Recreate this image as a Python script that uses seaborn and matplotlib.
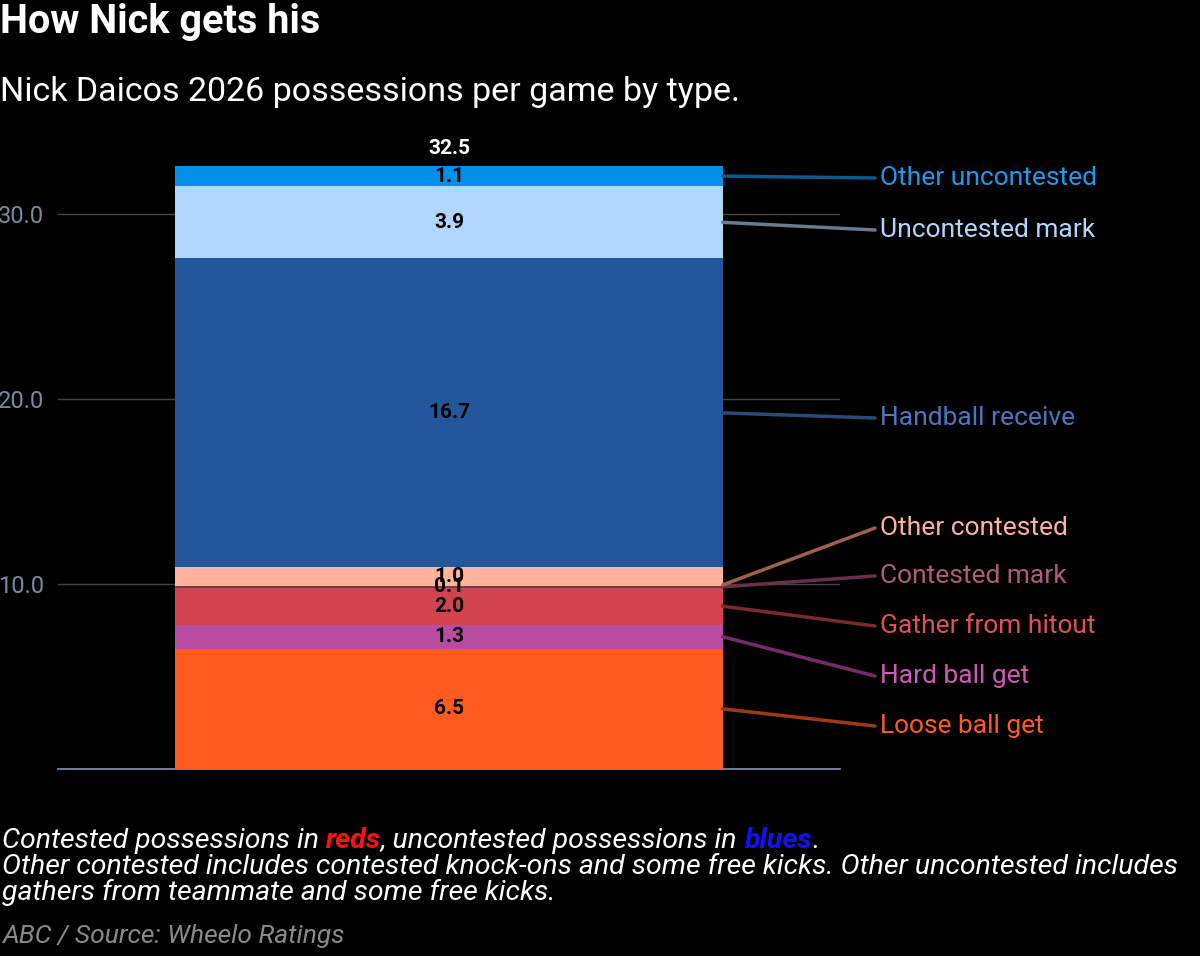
import matplotlib
matplotlib.use("Agg")
import matplotlib.pyplot as plt
import seaborn as sns
import numpy as np
import pandas as pd

categories = ["Loose ball get", "Hard ball get", "Gather from hitout", "Contested mark",
              "Other contested", "Handball receive", "Uncontested mark", "Other uncontested"]
values = [6.5, 1.3, 2.0, 0.1, 1.0, 16.7, 3.9, 1.1]
total_label = "32.5"
colors = ["#ff5a1f", "#b84ca0", "#d0434f", "#7a3a55", "#ffb49a", "#23579c", "#b0d6fc", "#0090e8"]
text_colors = ["#ff5a1f", "#d058b8", "#e0505a", "#b05a80", "#ffb49a", "#4a78c0", "#b0d6fc", "#1a9af0"]
line_colors = ["#a03a14", "#7a2a68", "#7a2a30", "#6a3048", "#a06050", "#2a4a78", "#6a7a90", "#0a5a90"]
label_y_px = [726, 676, 626, 576, 528, 418, 230, 178]
yticks = [10, 20, 30]

sns.set_theme(style="dark")
plt.rcParams["font.family"] = ["Roboto", "DejaVu Sans"]
fig = plt.figure(figsize=(12, 9.56), dpi=100, facecolor="black")
ax = fig.add_axes([58/1200, 1-769/956, 782/1200, (769-140)/956])
ax.set_facecolor("black")

cum = np.cumsum(values)
bottoms = cum - np.array(values)
for i in reversed(range(len(values))):
    df = pd.DataFrame({"x": ["a"], "y": [cum[i]]})
    sns.barplot(data=df, x="x", y="y", color=colors[i], width=0.7, ax=ax,
                saturation=1, zorder=3, linewidth=0)
ax.set_xlim(-0.5, 0.5)
ax.set_ylim(0, 34)
ax.set_yticks(yticks)
ax.set_yticklabels([f"{t:.1f}" for t in yticks], color="#7a8aa0", fontsize=17)
ax.set_xticks([])
ax.set_xlabel(""); ax.set_ylabel("")
ax.yaxis.grid(True, color="#444444", linewidth=1)
ax.xaxis.grid(False)
for s in ["top", "right", "left"]:
    ax.spines[s].set_visible(False)
ax.spines["bottom"].set_color("#8090b0")
ax.tick_params(axis="y", length=0, pad=10)

for i, v in enumerate(values):
    ax.text(0, bottoms[i] + v/2, f"{v:.1f}", ha="center", va="center", fontsize=15,
            fontweight="bold", color="black", zorder=5)
ax.text(0, cum[-1] + 0.4, total_label, ha="center", va="bottom", fontsize=15,
        fontweight="bold", color="white")

for i, cat in enumerate(categories):
    ymid = bottoms[i] + values[i]/2
    if cat == "Other contested":
        ymid = bottoms[i] + 0.05
    ax.annotate("", xy=(875/1200, 1-label_y_px[i]/956), xycoords="figure fraction",
                xytext=(0.85, ymid), textcoords=("axes fraction", "data"),
                arrowprops=dict(arrowstyle="-", color=line_colors[i], lw=2.5,
                                shrinkA=0, shrinkB=0), annotation_clip=False)
    fig.text(880/1200, 1-label_y_px[i]/956, cat, color=text_colors[i], fontsize=19,
             va="center", ha="left")

fig.text(0.0, 1-22/956, "How Nick gets his", color="white", fontsize=28.5,
         fontweight="bold", va="center")
fig.text(0.0, 1-92/956, "Nick Daicos 2026 possessions per game by type.", color="white",
         fontsize=24.5, va="center")

fig.canvas.draw()
r = fig.canvas.get_renderer()
parts = [("Contested possessions in ", "white", "normal"), ("reds", "#ff1010", "bold"),
         (", uncontested possessions in ", "white", "normal"), ("blues", "#1010ff", "bold"),
         (".", "white", "normal")]
x = 2
for t, c, w in parts:
    tx = fig.text(x/1200, 1-841/956, t, color=c, fontsize=20.5, style="italic",
                  fontweight=w, va="center")
    x += tx.get_window_extent(r).width
fig.text(2/1200, 1-867/956, "Other contested includes contested knock-ons and some free kicks. Other uncontested includes",
         color="white", fontsize=20.5, style="italic", va="center")
fig.text(2/1200, 1-892/956, "gathers from teammate and some free kicks.",
         color="white", fontsize=20.5, style="italic", va="center")
fig.text(2/1200, 1-936/956, "ABC / Source: Wheelo Ratings", color="#8a8a8a",
         fontsize=19, style="italic", va="center")

fig.savefig("out.png", dpi=100, facecolor="black")
